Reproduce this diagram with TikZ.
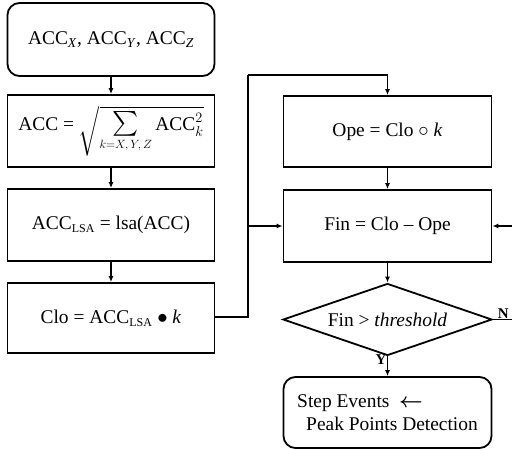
\documentclass[tikz,border=0pt]{standalone}
\usepackage{amsmath,mathtools}
\usepackage{fontspec}
\setmainfont{Liberation Serif}
\usetikzlibrary{shapes.geometric,arrows.meta}
\begin{document}
\begin{tikzpicture}[x=1bp,y=-1bp,
  every node/.style={font=\fontsize{19.5}{22}\selectfont},
  box/.style={draw,line width=1.8bp,minimum width=207bp,inner sep=0pt},
  rbox/.style={box,rounded corners=12bp},
  dia/.style={draw,line width=1.8bp,diamond,aspect=2.9,inner sep=0pt,minimum width=209bp,minimum height=72bp},
  conn/.style={line width=1.8bp},
  arr/.style={conn,-{Latex[length=6bp,width=5bp]}},
  lab/.style={font=\fontsize{15}{17}\selectfont\bfseries}]
\useasboundingbox (0,0) rectangle (512,449);
\node[rbox,minimum height=73bp] (acc) at (111,39.5) {ACC\textsubscript{\textit{X}}, ACC\textsubscript{\textit{Y}}, ACC\textsubscript{\textit{Z}}};
\node[box,minimum height=72bp] (sq) at (111,131) {ACC = $\sqrt{\mathop{\mbox{\fontsize{24}{24}\selectfont$\textstyle\sum$}}\limits_{\mbox{\fontsize{12}{12}\selectfont$k{=}X,Y,Z$}}\text{ACC}_k^2}$};
\node[box,minimum height=72bp] (lsa) at (111,225) {ACC\textsubscript{\fontsize{12}{13}\selectfont LSA} = lsa(ACC)};
\node[box,minimum height=70bp] (clo) at (111,318) {Clo = ACC\textsubscript{\fontsize{12}{13}\selectfont LSA} $\bullet$ \textit{k}};
\node[box,minimum height=71bp,minimum width=208bp] (ope) at (387.5,131.5) {Ope = Clo $\circ$ \textit{k}};
\node[box,minimum height=72bp,minimum width=208bp] (fin) at (387.5,226) {Fin = Clo -- Ope};
\node[dia] (thr) at (387.5,319.5) {Fin > \textit{threshold}};
\node[rbox,minimum height=71bp,minimum width=208bp,align=left] (step) at (387.5,412.5) {Step Events ~$\boldsymbol{\leftarrow}$\\[1bp] \hspace{9bp}Peak Points Detection};
\coordinate (cl) at (248,317);
\coordinate (ct) at (248,75);
\coordinate (re) at (512,226);
\coordinate (ne) at (512,319.5);
\draw[arr] (acc) -- (sq);
\draw[arr] (sq) -- (lsa);
\draw[arr] (lsa) -- (clo);
\draw[conn] (clo.east |- cl) -- (cl) -- (ct);
\draw[arr] (ct) -| (ope.north);
\draw[arr] (cl |- fin.west) -- (fin.west);
\draw[arr] (ope) -- (fin);
\draw[arr] (re) -- (fin.east);
\draw[arr] (fin) -- (thr);
\draw[conn] (thr.east) -- (ne);
\draw[arr] (thr) -- (step);
\node[lab,anchor=south west,inner sep=1bp] (nl) at (thr.east) {~N};
\node[lab,anchor=north east,inner sep=1bp] (yl) at ([yshift=3bp]thr.south) {Y};
\end{tikzpicture}
\end{document}
